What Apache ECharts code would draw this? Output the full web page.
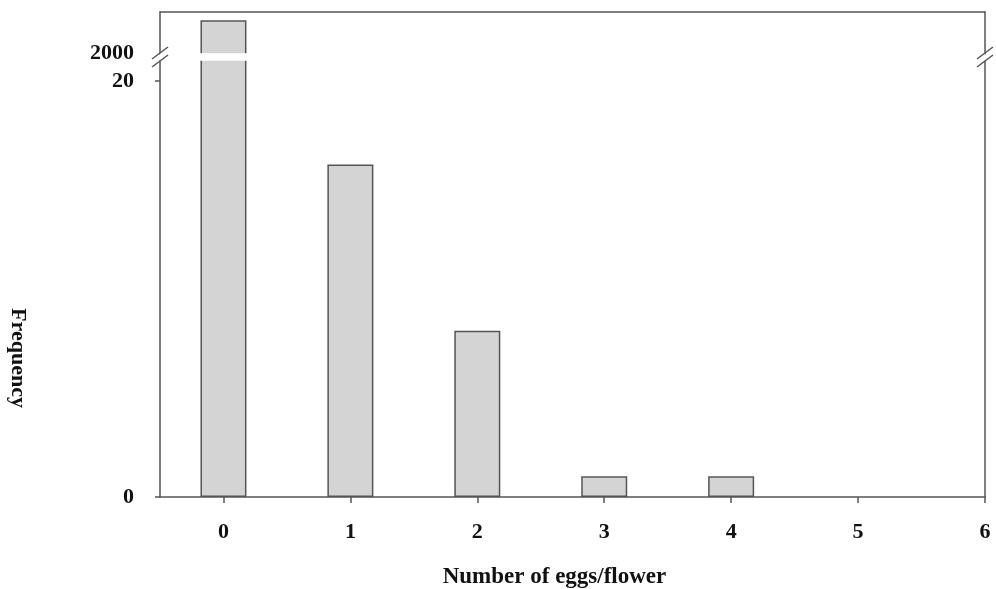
<!DOCTYPE html>
<html>
<head>
<meta charset="utf-8">
<script src="https://cdn.jsdelivr.net/npm/echarts@6/dist/echarts.min.js"></script>
<style>
html,body{margin:0;padding:0;background:#fff;}
#chart{width:996px;height:589px;}
</style>
</head>
<body>
<div id="chart"></div>
<script>
const eggsPerFlower = [0, 1, 2, 3, 4];
const frequency = [2001.6, 16, 8, 1, 1];
const xTickLabels = [0, 1, 2, 3, 4, 5, 6];
const yTickLabels = [0, 20, 2000];
const yTicks = [0, 20];
const breakStart = 21;
const breakEnd = 2000;

const FONT = '"Liberation Serif", "Times New Roman", serif';
const AXIS_COLOR = '#555';
const TEXT_COLOR = '#111';

const chart = echarts.init(document.getElementById('chart'), null, {renderer: 'canvas'});

const yBase = {
  type: 'value',
  min: 0,
  max: 2002,
  breaks: [{start: breakStart, end: breakEnd, gap: 0.33}],
  breakArea: {
    show: true,
    expandOnClick: false,
    zigzagAmplitude: 0,
    itemStyle: {color: '#fff', borderColor: '#fff', borderWidth: 0, opacity: 1}
  },
  splitLine: {show: false}
};

const option = {
  animation: false,
  backgroundColor: '#fff',
  grid: {left: 160, top: 12, right: 11, bottom: 92, containLabel: false, outerBoundsMode: 'none'},
  xAxis: [{
    type: 'value',
    min: -0.5,
    max: 6,
    axisLine: {show: true, onZero: false, lineStyle: {color: AXIS_COLOR, width: 1.5}},
    axisTick: {show: true, length: 6, customValues: xTickLabels, lineStyle: {color: AXIS_COLOR, width: 1.5}},
    axisLabel: {customValues: xTickLabels, margin: 24, color: TEXT_COLOR, fontFamily: FONT, fontWeight: 'bold', fontSize: 22,
      formatter: function (v) { return String(v); }},
    splitLine: {show: false},
    name: 'Number of eggs/flower',
    nameLocation: 'middle',
    nameGap: 69,
    nameTextStyle: {color: TEXT_COLOR, fontFamily: FONT, fontWeight: 'bold', fontSize: 23, padding: [0, 36, 0, 0]}
  }, {
    type: 'value',
    position: 'top',
    min: -0.5,
    max: 6,
    axisLine: {show: true, onZero: false, lineStyle: {color: AXIS_COLOR, width: 1.5}},
    axisTick: {show: false},
    axisLabel: {show: false},
    splitLine: {show: false}
  }],
  yAxis: [Object.assign({}, yBase, {
    position: 'left',
    axisLine: {show: true, onZero: false, lineStyle: {color: AXIS_COLOR, width: 1.5}},
    axisTick: {show: true, length: 5, customValues: yTicks, lineStyle: {color: AXIS_COLOR, width: 1.5}},
    axisLabel: {customValues: yTickLabels, margin: 26, color: TEXT_COLOR, fontFamily: FONT, fontWeight: 'bold', fontSize: 22,
      formatter: function (v) { return String(v); }}
  }), Object.assign({}, yBase, {
    position: 'right',
    axisLine: {show: true, onZero: false, lineStyle: {color: AXIS_COLOR, width: 1.5}},
    axisTick: {show: false},
    axisLabel: {show: false}
  })],
  series: [{
    type: 'bar',
    xAxisIndex: 0,
    yAxisIndex: 0,
    barWidth: 46,
    data: eggsPerFlower.map((x, i) => [x, frequency[i]]),
    itemStyle: {color: '#d4d4d4', borderColor: '#555', borderWidth: 1.5}
  }]
};

chart.setOption(option);

const yLow = chart.convertToPixel({yAxisIndex: 0}, breakStart);
const yHigh = chart.convertToPixel({yAxisIndex: 0}, breakEnd);
const yMid = (yLow + yHigh) / 2;
const xLeft = chart.convertToPixel({xAxisIndex: 0}, -0.5);
const xRight = chart.convertToPixel({xAxisIndex: 0}, 6);

function slashes(cx, cy) {
  const out = [];
  [-4, 4].forEach(function (d) {
    out.push({
      type: 'line',
      shape: {x1: cx - 8, y1: cy + d + 6, x2: cx + 8, y2: cy + d - 6},
      style: {stroke: AXIS_COLOR, lineWidth: 1.5},
      z: 100
    });
  });
  out.push({
    type: 'rect',
    shape: {x: cx - 3, y: cy - 2, width: 6, height: 4},
    style: {fill: '#fff'},
    z: 99
  });
  return out;
}

chart.setOption({
  graphic: [].concat(slashes(xLeft, yMid), slashes(xRight, yMid), [{
    type: 'text',
    x: 18,
    y: 358,
    rotation: -Math.PI / 2,
    style: {
      text: 'Frequency',
      fill: TEXT_COLOR,
      font: 'bold 22px ' + FONT,
      textAlign: 'center',
      textVerticalAlign: 'middle'
    }
  }])
});
</script>
</body>
</html>
